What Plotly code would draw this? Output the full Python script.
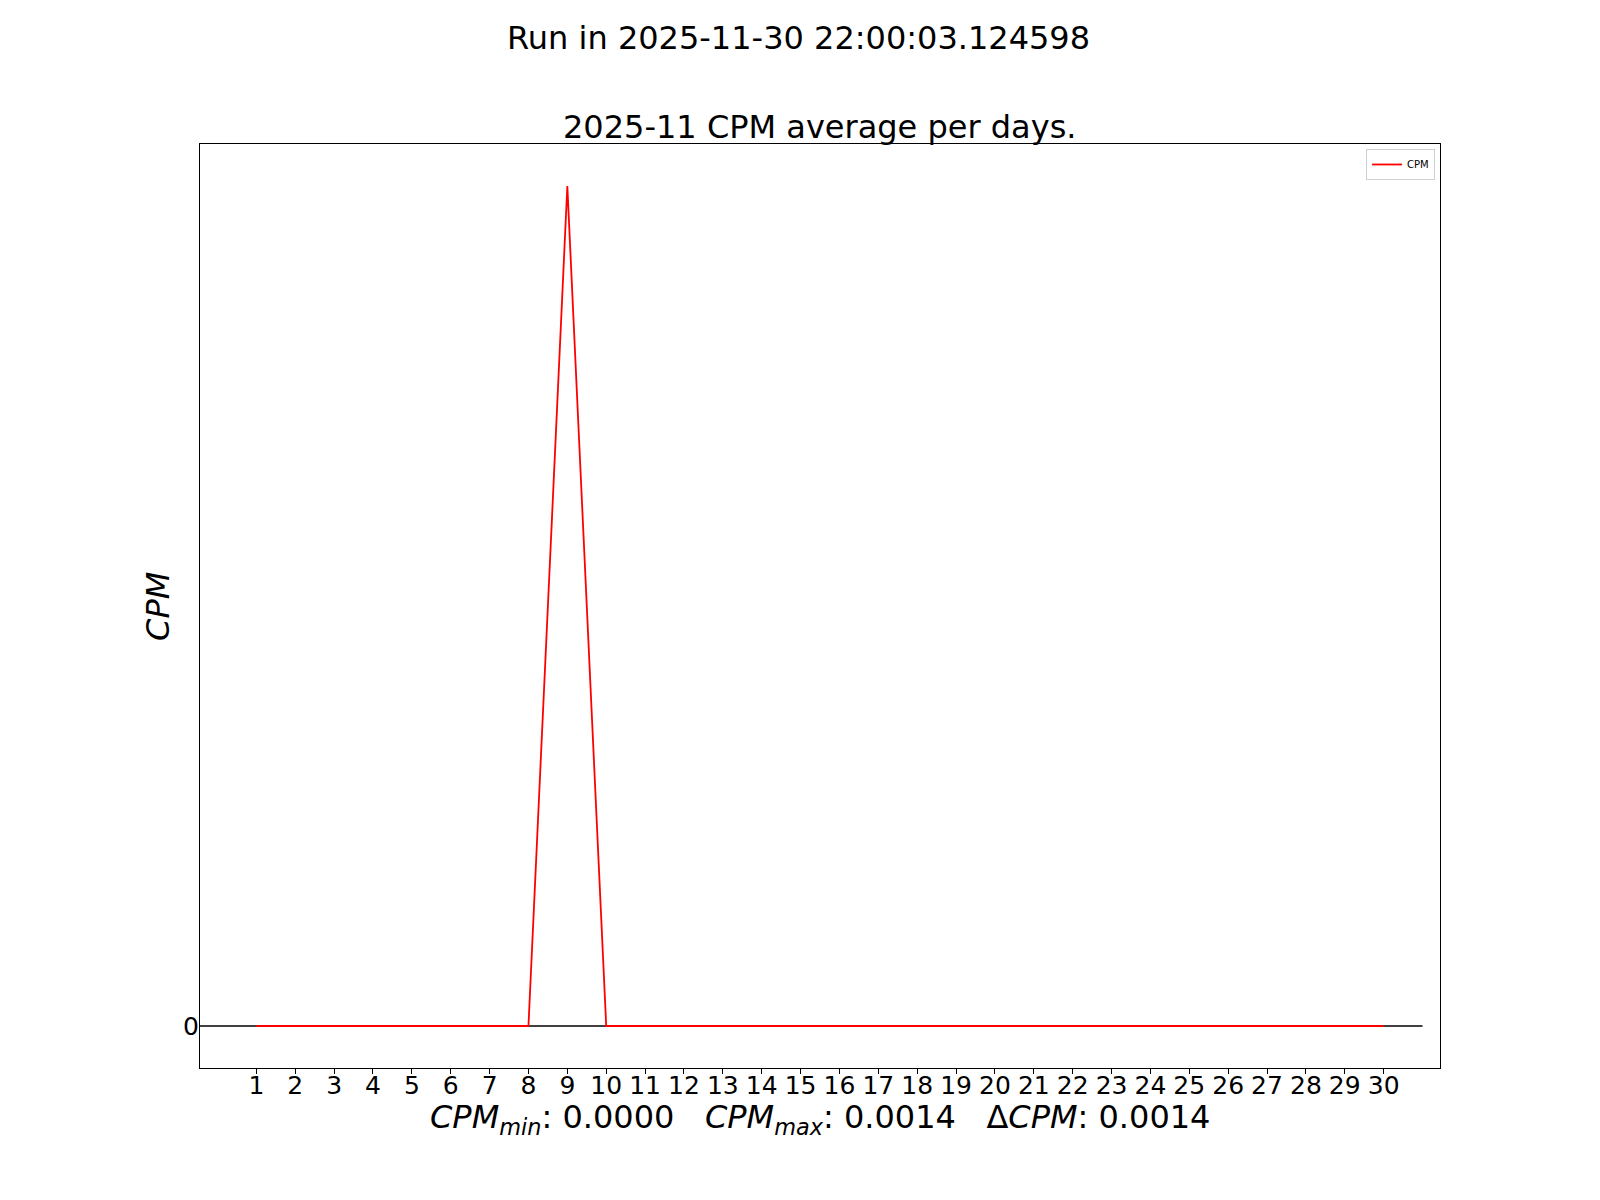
import plotly.graph_objects as go

# Dados do mês (média de CPM por dia)
days = list(range(1, 31))
cpm = [0, 0, 0, 0, 0, 0, 0, 0, 0.0014, 0,
       0, 0, 0, 0, 0, 0, 0, 0, 0, 0,
       0, 0, 0, 0, 0, 0, 0, 0, 0, 0]
baseline_days = [-1, 31]
baseline_cpm = [0, 0]
y_ticks = [0]

run_title = "Run in 2025-11-30 22:00:03.124598"
chart_title = "2025-11 CPM average per days."
stats_text = ("<i>CPM</i><sub><i>min</i></sub>: 0.0000&nbsp;&nbsp;&nbsp;"
              "<i>CPM</i><sub><i>max</i></sub>: 0.0014&nbsp;&nbsp;&nbsp;"
              "Δ<i>CPM</i>: 0.0014")

FONT = "DejaVu Sans, Liberation Sans, sans-serif"

fig = go.Figure()

# Linha de referência em zero
fig.add_trace(go.Scatter(
    x=baseline_days, y=baseline_cpm, mode="lines",
    line=dict(color="black", width=1.5), showlegend=False, hoverinfo="skip",
))

# Série CPM
fig.add_trace(go.Scatter(
    x=days, y=cpm, mode="lines", name="CPM",
    line=dict(color="red", width=1.8),
))

ymax = max(cpm)
pad = ymax * 0.05

# a página tem 8px de margem no body, por isso l/t descontam 8
fig.update_layout(
    width=1600, height=1200,
    margin=dict(l=192, r=168, t=136, b=140),
    paper_bgcolor="white", plot_bgcolor="white",
    font=dict(family=FONT, color="black"),
    legend=dict(
        x=0.996, y=0.9946, xanchor="right", yanchor="top",
        bgcolor="white", bordercolor="#d0d0d0", borderwidth=1,
        font=dict(size=10, family=FONT),
        itemwidth=30, tracegroupgap=0,
    ),
    annotations=[
        dict(text=run_title, xref="paper", yref="paper", x=0.483, y=1.1147,
             xanchor="center", yanchor="middle", showarrow=False,
             font=dict(size=32, family=FONT)),
        dict(text=chart_title, xref="paper", yref="paper", x=0.5, y=1.0184,
             xanchor="center", yanchor="middle", showarrow=False,
             font=dict(size=32, family=FONT)),
        dict(text=stats_text, xref="paper", yref="paper", x=0.5, y=-0.0553,
             xanchor="center", yanchor="middle", showarrow=False,
             font=dict(size=32, family=FONT)),
        dict(text="<i>CPM</i>", xref="paper", yref="paper", x=-0.0339, y=0.5,
             xanchor="center", yanchor="middle", showarrow=False, textangle=-90,
             font=dict(size=32, family=FONT)),
    ],
)

fig.update_xaxes(
    range=[-0.45, 31.45], automargin=False,
    tickmode="array", tickvals=days, ticktext=[str(d) for d in days],
    ticks="outside", ticklen=5, tickcolor="black", tickwidth=1,
    ticklabelstandoff=-10,
    tickfont=dict(size=25, family=FONT),
    showline=True, linecolor="black", linewidth=1, mirror=True,
    showgrid=False, zeroline=False,
)

fig.update_yaxes(
    range=[-pad, ymax + pad], automargin=False,
    tickmode="array", tickvals=y_ticks, ticktext=["0"],
    ticks="", ticklabelstandoff=-5,
    tickfont=dict(size=25, family=FONT),
    showline=True, linecolor="black", linewidth=1, mirror=True,
    showgrid=False, zeroline=False,
)

fig.write_html("out.html")
